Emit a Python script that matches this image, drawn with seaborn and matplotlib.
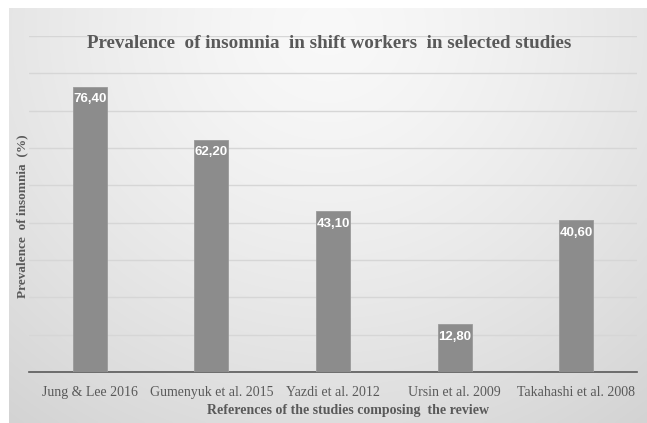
import numpy as np
import pandas as pd
import matplotlib
matplotlib.use("Agg")
import matplotlib.pyplot as plt
import seaborn as sns

studies = ["Jung & Lee 2016", "Gumenyuk et al. 2015", "Yazdi et al. 2012",
           "Ursin et al. 2009", "Takahashi et al. 2008"]
prevalence = [76.40, 62.20, 43.10, 12.80, 40.60]
value_labels = ["76,40", "62,20", "43,10", "12,80", "40,60"]

title = "Prevalence  of insomnia  in shift workers  in selected studies"
xlabel = "References of the studies composing  the review"
ylabel = "Prevalence  of insomnia  (%)"

df = pd.DataFrame({"study": studies, "prevalence": prevalence})

sns.set_theme(style="white")
plt.rcParams["font.family"] = ["Liberation Serif", "DejaVu Serif"]

W, H = 647, 423
fig = plt.figure(figsize=(W / 100, H / 100), dpi=100)
fig.patch.set_facecolor("white")

# gradient background panel
bg = fig.add_axes([9 / W, 0, 1 - 9 / W, 1 - 8 / H], zorder=0)
ny, nx = 200, 300
yy, xx = np.mgrid[0:1:ny * 1j, 0:1:nx * 1j]
r = np.sqrt(((xx - 0.5) / 0.75) ** 2 + ((yy - 0.05) / 1.1) ** 2)
val = 0.975 - 0.13 * np.clip(r, 0, 1.2) ** 1.4
bg.imshow(np.dstack([val, val, val]), aspect="auto", extent=[0, 1, 1, 0], interpolation="bilinear")
bg.set_axis_off()

ax = fig.add_axes([29 / W, (H - 372) / H, (637 - 29) / W, (372 - 36) / H], zorder=1)
ax.patch.set_alpha(0)
sns.barplot(data=df, x="study", y="prevalence", color="#8c8c8c", width=0.28,
            saturation=1, ax=ax, zorder=3, edgecolor="#9a9a9a", linewidth=0.6)
ax.set_ylim(0, 90)
ax.set_yticks(np.arange(0, 91, 10))
ax.set_yticklabels([])
ax.tick_params(axis="y", length=0)
ax.tick_params(axis="x", length=0, pad=10, labelsize=10, labelcolor="#595959")
for lab in ax.get_xticklabels():
    lab.set_family(["Liberation Serif"])
ax.grid(axis="y", color="#d6d6d6", linewidth=1.0, zorder=0)
ax.set_axisbelow(True)
for s in ["top", "right", "left"]:
    ax.spines[s].set_visible(False)
ax.spines["bottom"].set_color("#595959")
ax.spines["bottom"].set_linewidth(1.2)
ax.set_xlabel("")
ax.set_ylabel("")

for i, (v, t) in enumerate(zip(prevalence, value_labels)):
    ax.annotate(t, (i, v), xytext=(0, -9), textcoords="offset points",
                ha="center", va="center", color="white", fontsize=9.5,
                fontweight="bold",
                family=["Liberation Sans Narrow", "Liberation Sans", "DejaVu Sans"],
                zorder=5)

fig.text(329 / W, 1 - 43 / H, title, ha="center", va="center", fontsize=13.7,
         fontweight="bold", color="#595959", family=["Liberation Serif"])
fig.text(348 / W, 1 - 410 / H, xlabel, ha="center", va="center", fontsize=10,
         fontweight="bold", color="#595959", family=["Liberation Serif"])
fig.text(22 / W, 1 - 216 / H, ylabel, ha="center", va="center", rotation=90,
         fontsize=9.5, fontweight="bold", color="#595959", family=["Liberation Serif"])

fig.savefig("out.png", dpi=100)
